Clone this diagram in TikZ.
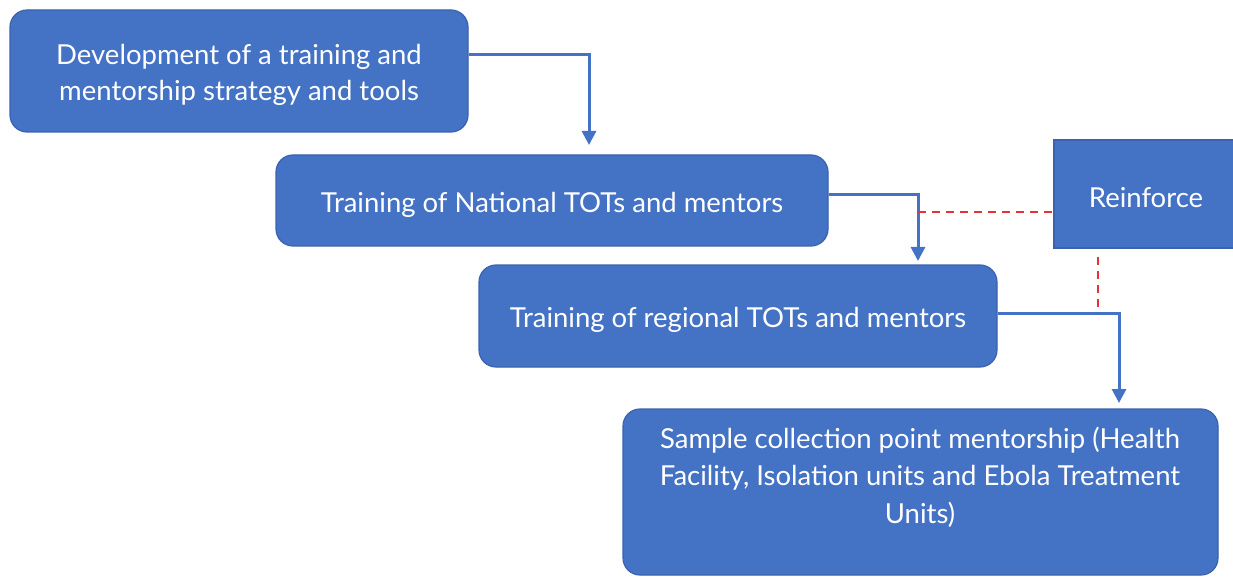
\documentclass[tikz,border=0pt]{standalone}
\usepackage{fontspec}
\setmainfont{Lato}
\usetikzlibrary{arrows.meta,calc}
\definecolor{boxblue}{HTML}{4472C4}
\definecolor{boxedge}{HTML}{3A62AE}
\definecolor{linkred}{HTML}{E8303A}
\begin{document}
\begin{tikzpicture}[x=1pt,y=-1pt,
  rbox/.style={draw=boxedge, line width=1.2pt, fill=boxblue, rounded corners=17pt, inner sep=0pt},
  sbox/.style={rbox, rounded corners=0pt},
  lbl/.style={text=white, align=center, inner sep=0pt, yshift=-4pt,
    font=\fontsize{27.5}{36}\selectfont},
  flow/.style={draw=boxblue, line width=3pt,
    -{Triangle[width=14pt,length=14pt]}},
  link/.style={draw=linkred, line width=2pt, dash pattern=on 8pt off 6pt}]
  \useasboundingbox (0,0) rectangle (1233,577);

  % process steps
  \node[rbox, minimum width=458pt, minimum height=122pt] (dev) at (239,71) {};
  \node[lbl] (devtxt) at (dev) {Development of a training and\\mentorship strategy and tools};
  \node[rbox, minimum width=552pt, minimum height=91pt] (nat) at (552,200.5) {};
  \node[lbl] (nattxt) at (nat) {Training of National TOTs and mentors};
  \node[rbox, minimum width=518pt, minimum height=102pt] (reg) at (738,316) {};
  \node[lbl] (regtxt) at (reg) {Training of regional TOTs and mentors};
  \node[sbox, minimum width=180pt, minimum height=108pt] (rei) at (1144,194) {};
  \node[lbl, xshift=2pt] (reitxt) at (rei) {Reinforce};
  \node[rbox, minimum width=595pt, minimum height=166pt] (col) at (920.5,492) {};
  \node[lbl, font=\fontsize{27.5}{37.5}\selectfont] (coltxt) at (920,473)
    {Sample collection point mentorship (Health\\Facility, Isolation units and Ebola Treatment\\Units)};

  % arrow end points just above each next box
  \coordinate (t1) at (589,145);
  \coordinate (t2) at (918,261);
  \coordinate (t3) at (1119,403);

  % flow arrows
  \draw[flow] ([yshift=16pt]dev.east) -| (t1);
  \draw[flow] ([yshift=5.5pt]nat.east) -| (t2);
  \draw[flow] ([yshift=3pt]reg.east) -| (t3);

  % dashed reinforcement links
  \coordinate (j1) at (918,212);
  \coordinate (j2) at (1098,313);
  \draw[link] (j1) -- (j1 -| rei.west);
  \draw[link] ([yshift=-8pt]rei.south -| j2) -- (j2);
\end{tikzpicture}
\end{document}
